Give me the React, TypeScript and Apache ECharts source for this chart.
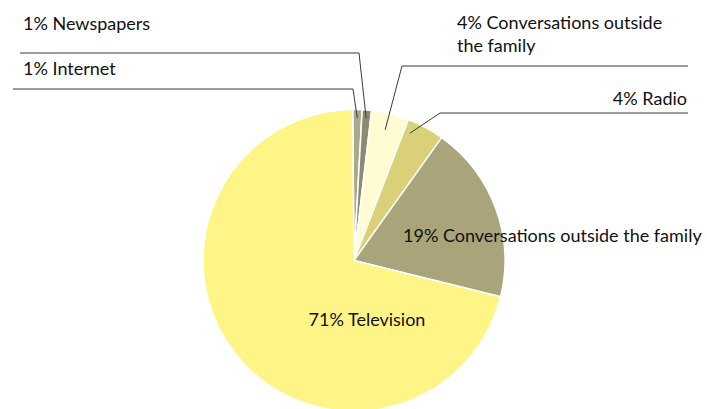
import React, { useEffect, useRef } from "react";
import * as echarts from "echarts";

// ---- data ----
const categories = [
  "Internet",
  "Newspapers",
  "Conversations outside the family",
  "Radio",
  "Conversations outside the family",
  "Television",
];
const shares = [1, 1, 4, 4, 19, 71];
const sliceColors = ["#aba88f", "#8c8a72", "#fffbd2", "#d9d078", "#a9a479", "#fff587"];

// ---- layout (not data) ----
const CX = 354;
const CY = 260.5;
const R = 151;
const START = 90.5;

type Place = {
  x: number;
  y: number;
  align: "left" | "right" | "center";
  bend?: [number, number];
  end?: [number, number];
  anchorR?: number;
  anchorShift?: number;
  text?: string;
};
const placements: Place[] = [
  { x: 23, y: 68, align: "left", bend: [353, 89], end: [13, 89], anchorR: 0.945, anchorShift: 0 },
  { x: 23, y: 22.5, align: "left", bend: [359, 53], end: [20, 53], anchorR: 0.945, anchorShift: 0 },
  { x: 457, y: 33, align: "left", bend: [402, 66], end: [688, 66], anchorR: 0.89, anchorShift: 0.5, text: "4% Conversations outside\nthe family" },
  { x: 687, y: 98, align: "right", bend: [440, 113], end: [688, 113], anchorR: 0.92, anchorShift: 4.6 },
  { x: 403, y: 235, align: "left" },
  { x: 367, y: 319, align: "center" },
];

function anchor(i: number): [number, number] {
  const total = shares.reduce((a, b) => a + b, 0);
  let cum = 0;
  for (let k = 0; k < i; k++) cum += shares[k];
  const p = placements[i];
  const mid = START - ((cum + shares[i] / 2) / total) * 360 + (p.anchorShift || 0);
  const rad = (mid * Math.PI) / 180;
  const rr = R * (p.anchorR || 0.92);
  return [CX + rr * Math.cos(rad), CY - rr * Math.sin(rad)];
}

export default function App() {
  const ref = useRef<HTMLDivElement>(null);
  useEffect(() => {
    if (!ref.current) return;
    const chart = echarts.init(ref.current, null, { renderer: "svg" });
    const sliceData = categories.map((name, i) => ({
      name,
      value: shares[i],
      itemStyle: { color: sliceColors[i] },
    }));
    const labelData = categories.map((name, i) => ({
      name,
      value: shares[i],
      label: placements[i].text ? { formatter: placements[i].text } : undefined,
      labelLine: { show: !!placements[i].bend },
    }));
    const common = {
      type: "pie",
      silent: true,
      center: [CX, CY],
      radius: [0, R],
      startAngle: START,
      clockwise: true,
      avoidLabelOverlap: false,
      emphasis: { disabled: true },
    };
    chart.setOption({
      animation: false,
      backgroundColor: "#ffffff",
      series: [
        {
          ...common,
          z: 2,
          itemStyle: { borderColor: "#ffffff", borderWidth: 1.5 },
          label: { show: false },
          labelLine: { show: false },
          data: sliceData,
        },
        {
          ...common,
          z: 5,
          itemStyle: { color: "rgba(0,0,0,0)", borderWidth: 0 },
          label: {
            show: true,
            position: "outside",
            formatter: "{c}% {b}",
            fontFamily: "Lato, 'Noto Sans', sans-serif",
            fontSize: 18,
            color: "#111111",
            lineHeight: 23,
          },
          labelLine: {
            show: true,
            lineStyle: { color: "#3a3a3a", width: 1 },
          },
          labelLayout: (params: any) => {
            const i = params.dataIndex;
            const p = placements[i];
            const out: any = {
              x: p.x,
              y: p.y,
              align: p.align,
              verticalAlign: "middle",
            };
            if (p.bend && p.end) {
              out.labelLinePoints = [anchor(i), p.bend, p.end];
            }
            return out;
          },
          data: labelData,
        },
      ],
    });
    return () => chart.dispose();
  }, []);
  return (
    <div
      ref={ref}
      style={{ position: "fixed", left: 0, top: 0, width: 707, height: 409 }}
    />
  );
}
